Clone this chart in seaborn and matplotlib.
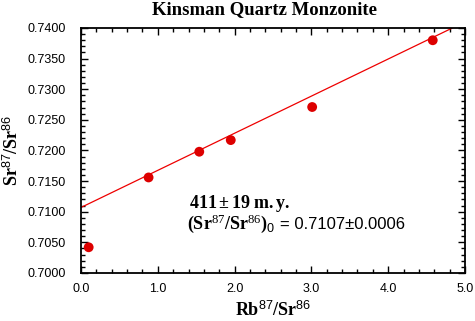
import matplotlib
matplotlib.use("Agg")
import matplotlib.pyplot as plt
from matplotlib.ticker import MultipleLocator, FormatStrFormatter
import seaborn as sns
import pandas as pd

# data
rb_sr = [0.10, 0.88, 1.54, 1.95, 3.01, 4.58]
sr_sr = [0.7042, 0.7156, 0.7198, 0.7217, 0.7271, 0.7380]
fit_x = [0.0, 5.0]
fit_y = [0.7107, 0.7410]
title = "Kinsman Quartz Monzonite"

sns.set_theme(style="ticks")
plt.rcParams['font.family'] = ['Liberation Sans', 'DejaVu Sans']
plt.rcParams['mathtext.fontset'] = 'custom'
plt.rcParams['mathtext.rm'] = 'Liberation Serif'
plt.rcParams['mathtext.bf'] = 'Liberation Serif:bold'
plt.rcParams['mathtext.it'] = 'Liberation Serif:italic'
plt.rcParams['mathtext.sf'] = 'Liberation Sans'

fig = plt.figure(figsize=(4.75, 3.21), dpi=100)
ax = fig.add_axes([81/475, 1-273/321, 384/475, 245/321])

pts = pd.DataFrame({"x": rb_sr, "y": sr_sr})
line = pd.DataFrame({"x": fit_x, "y": fit_y})
sns.lineplot(data=line, x="x", y="y", ax=ax, color="#ee0000", linewidth=0.9)
sns.scatterplot(data=pts, x="x", y="y", ax=ax, color="#dd0000", s=50, edgecolor="none", zorder=3)

ax.set_xlim(0, 5)
ax.set_ylim(0.70, 0.74)
ax.xaxis.set_major_locator(MultipleLocator(1.0))
ax.xaxis.set_minor_locator(MultipleLocator(0.2))
ax.yaxis.set_major_locator(MultipleLocator(0.005))
ax.yaxis.set_minor_locator(MultipleLocator(0.001))
ax.xaxis.set_major_formatter(FormatStrFormatter("%.1f"))
ax.yaxis.set_major_formatter(FormatStrFormatter("%.4f"))
ax.tick_params(which="both", direction="in", top=True, right=True, color="black", width=1.0)
ax.tick_params(which="major", length=5, labelsize=9, labelcolor="black")
ax.tick_params(axis="x", which="major", pad=7)
ax.tick_params(axis="y", which="major", pad=11)
ax.tick_params(which="minor", length=3)
for s in ax.spines.values():
    s.set_linewidth(1.3)
    s.set_color("black")
    s.set_visible(True)

ax.set_xlabel(r"$\mathbf{Rb}^{\mathsf{87}}\mathbf{/Sr}^{\mathsf{86}}$", fontsize=13, color="black", labelpad=4)
ax.set_ylabel(r"$\mathbf{Sr}^{\mathsf{87}}\mathbf{/Sr}^{\mathsf{86}}$", fontsize=13, color="black", labelpad=4)
fig.text(265/475, 1-10/321, title, ha="center", va="center", fontsize=13.5, fontweight="bold",
         family="Liberation Serif", color="black")

fig.text(189/475, 1-208/321, r"$\mathbf{411\pm19\ m.y.}$",
         fontsize=13, color="black", va="baseline")
fig.text(187/475, 1-229/321, r"$\mathbf{(Sr}^{\mathrm{87}}\mathbf{/Sr}^{\mathrm{86}}\mathbf{)}_{\mathsf{0}}$",
         fontsize=13, color="black", va="baseline")
fig.text(280/475, 1-229/321, "= 0.7107\u00b10.0006",
         fontsize=12, color="black", va="baseline", family="Liberation Sans")

fig.savefig("out.png", dpi=100, facecolor="white")
